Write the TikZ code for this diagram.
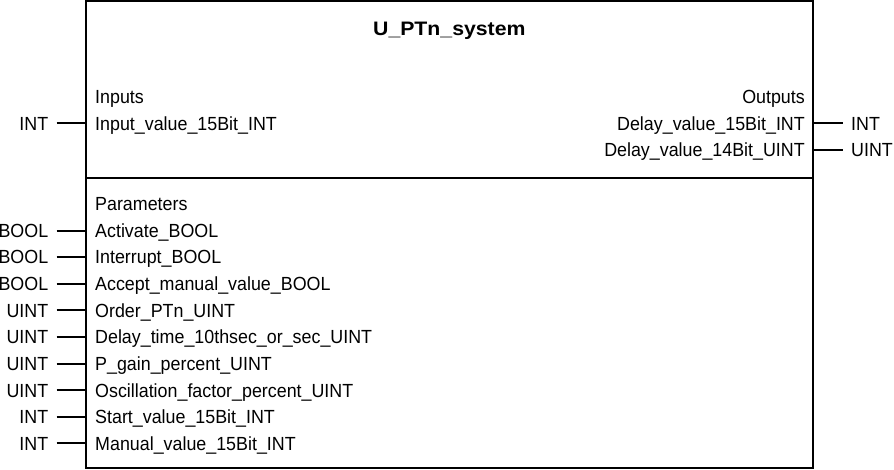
\documentclass[tikz,border=0pt]{standalone}
\usepackage{fontspec}
\setmainfont{Liberation Sans}[FakeStretch=0.94]
\newfontfamily\ttlfont{Liberation Sans}[FakeStretch=1.09]
\usepackage{tikz}
\usetikzlibrary{positioning}

\begin{document}
\begin{tikzpicture}[
    x=1pt, y=-1pt,
    node distance=26.6pt,
    blk/.style={draw, line width=2pt, minimum width=726.7pt, minimum height=466.8pt, inner sep=0pt},
    ttl/.style={font=\ttlfont\fontsize{19.5pt}{22pt}\selectfont\bfseries, inner sep=0pt},
    item/.style={font=\fontsize{19pt}{22pt}\selectfont, inner sep=0pt, text height=16.5pt, text depth=2.9pt},
    ptype/.style={item, outer xsep=8.5pt},
    wire/.style={line width=2pt},
]
    \useasboundingbox (0,0) rectangle (894,470);

    % function block
    \node[blk] (fb) at (449.35,234.9) {};
    \coordinate (sep) at (0,177.7);
    \draw[wire] (fb.west |- sep) -- (fb.east |- sep);
    \node[ttl, anchor=base] (title) at (449.35,36) {U\_PTn\_system};

    % inputs
    \node[item, anchor=west] (inp) at (95,96.7) {Inputs};
    \node[item, below=of inp.west, anchor=west] (iv) {Input\_value\_15Bit\_INT};

    % outputs
    \node[item, anchor=east] (outp) at (805,96.7) {Outputs};
    \node[item, below=of outp.east, anchor=east] (dv15) {Delay\_value\_15Bit\_INT};
    \node[item, below=of dv15.east, anchor=east] (dv14) {Delay\_value\_14Bit\_UINT};

    % parameters
    \node[item, anchor=west] (par) at (95,204) {Parameters};
    \node[item, below=of par.west, anchor=west] (act) {Activate\_BOOL};
    \node[item, below=of act.west, anchor=west] (intr) {Interrupt\_BOOL};
    \node[item, below=of intr.west, anchor=west] (acc) {Accept\_manual\_value\_BOOL};
    \node[item, below=of acc.west, anchor=west] (ord) {Order\_PTn\_UINT};
    \node[item, below=of ord.west, anchor=west] (dly) {Delay\_time\_10thsec\_or\_sec\_UINT};
    \node[item, below=of dly.west, anchor=west] (gain) {P\_gain\_percent\_UINT};
    \node[item, below=of gain.west, anchor=west] (osc) {Oscillation\_factor\_percent\_UINT};
    \node[item, below=of osc.west, anchor=west] (start) {Start\_value\_15Bit\_INT};
    \node[item, below=of start.west, anchor=west] (man) {Manual\_value\_15Bit\_INT};

    % data types
    \coordinate (lx) at (56.7,0);
    \coordinate (rx) at (842.7,0);
    \node[ptype, anchor=east] (t-iv) at (iv.west -| lx) {INT};
    \node[ptype, anchor=west] (t-dv15) at (dv15.east -| rx) {INT};
    \node[ptype, anchor=west] (t-dv14) at (dv14.east -| rx) {UINT};
    \node[ptype, anchor=east] (t-act) at (act.west -| lx) {BOOL};
    \node[ptype, anchor=east] (t-intr) at (intr.west -| lx) {BOOL};
    \node[ptype, anchor=east] (t-acc) at (acc.west -| lx) {BOOL};
    \node[ptype, anchor=east] (t-ord) at (ord.west -| lx) {UINT};
    \node[ptype, anchor=east] (t-dly) at (dly.west -| lx) {UINT};
    \node[ptype, anchor=east] (t-gain) at (gain.west -| lx) {UINT};
    \node[ptype, anchor=east] (t-osc) at (osc.west -| lx) {UINT};
    \node[ptype, anchor=east] (t-start) at (start.west -| lx) {INT};
    \node[ptype, anchor=east] (t-man) at (man.west -| lx) {INT};

    % connectors
    \draw[wire] (t-iv.east) -- (t-iv.east -| fb.west);
    \draw[wire] (t-dv15.west) -- (t-dv15.west -| fb.east);
    \draw[wire] (t-dv14.west) -- (t-dv14.west -| fb.east);
    \draw[wire] (t-act.east) -- (t-act.east -| fb.west);
    \draw[wire] (t-intr.east) -- (t-intr.east -| fb.west);
    \draw[wire] (t-acc.east) -- (t-acc.east -| fb.west);
    \draw[wire] (t-ord.east) -- (t-ord.east -| fb.west);
    \draw[wire] (t-dly.east) -- (t-dly.east -| fb.west);
    \draw[wire] (t-gain.east) -- (t-gain.east -| fb.west);
    \draw[wire] (t-osc.east) -- (t-osc.east -| fb.west);
    \draw[wire] (t-start.east) -- (t-start.east -| fb.west);
    \draw[wire] (t-man.east) -- (t-man.east -| fb.west);
\end{tikzpicture}
\end{document}
